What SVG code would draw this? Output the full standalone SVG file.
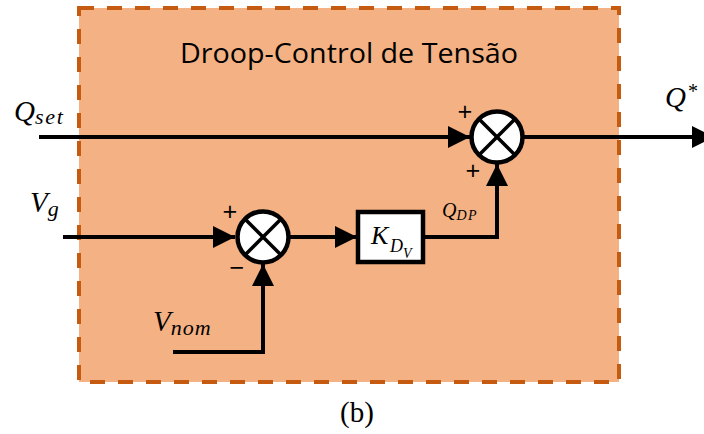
<svg xmlns="http://www.w3.org/2000/svg" width="704" height="434" viewBox="0 0 704 434">
<defs>
<marker id="ah" markerUnits="userSpaceOnUse" markerWidth="22" markerHeight="22" viewBox="0 0 20 20" refX="20" refY="10" orient="auto"><path d="M0,0 L20,10 L0,20 Z" fill="#000"/></marker>
</defs>
<style>
.ln{fill:none;stroke:#000;stroke-width:4;stroke-linejoin:miter}
.m{font-family:"Liberation Serif",serif;font-style:italic;fill:#000}
.sg{font-family:"Open Sans","Liberation Sans",sans-serif;fill:#000;text-anchor:middle}
.sum circle{fill:#fff;stroke:#000;stroke-width:4.5}
.sum line{stroke:#000;stroke-width:3.5}
.blk{fill:#fff;stroke:#000;stroke-width:4.5}
</style>
<rect width="704" height="434" fill="#fff"/>
<g id="frame">
<rect x="79" y="8" width="540" height="374" fill="#F4B183" stroke="#C55A11" stroke-width="4" stroke-dasharray="15 13"/>
<text x="349" y="63" font-family="Open Sans, Liberation Sans, sans-serif" font-size="27" text-anchor="middle" textLength="338" lengthAdjust="spacingAndGlyphs" fill="#000">Droop-Control de Tensão</text>
</g>
<g id="connectors">
<path class="ln" d="M39,137 H470" marker-end="url(#ah)"/>
<path class="ln" d="M523,137 H714" marker-end="url(#ah)"/>
<path class="ln" d="M63,237 H235" marker-end="url(#ah)"/>
<path class="ln" d="M173,352 H263 V264" marker-end="url(#ah)"/>
<path class="ln" d="M290,237 H357" marker-end="url(#ah)"/>
<path class="ln" d="M423,237 H497 V164" marker-end="url(#ah)"/>
</g>
<g id="sum1" class="sum">
<circle cx="263" cy="237" r="25.5"/>
<line x1="245" y1="219" x2="281" y2="255"/>
<line x1="281" y1="219" x2="245" y2="255"/>
<text class="sg" x="230" y="221" font-size="26">+</text>
<text class="sg" x="237" y="277" font-size="26">−</text>
</g>
<g id="sum2" class="sum">
<circle cx="497" cy="137" r="25.5"/>
<line x1="479" y1="119" x2="515" y2="155"/>
<line x1="515" y1="119" x2="479" y2="155"/>
<text class="sg" x="465" y="121" font-size="26">+</text>
<text class="sg" x="473" y="180" font-size="26">+</text>
</g>
<g id="gain">
<rect class="blk" x="358" y="212" width="65" height="50"/>
<text class="m" x="371" y="244" font-size="26">K</text>
<text class="m" x="390" y="252" font-size="18">D</text>
<text class="m" x="403" y="258" font-size="14">V</text>
</g>
<g id="labels">
<text class="m" x="14" y="121" font-size="29">Q<tspan font-size="22" dy="3" textLength="28">set</tspan></text>
<text class="m" x="30" y="212" font-size="29">V<tspan font-size="22" dy="4">g</tspan></text>
<text class="m" x="153" y="331" font-size="29">V<tspan font-size="22" dy="4" textLength="40">nom</tspan></text>
<text class="m" x="442" y="217" font-size="20">Q<tspan font-size="14" dy="3" textLength="20">DP</tspan></text>
<text class="m" x="665" y="107" font-size="29">Q</text>
<text x="688" y="98" font-family="Liberation Serif, serif" font-size="20" fill="#000">*</text>
<text x="357" y="422" font-family="Liberation Serif, serif" font-size="29" text-anchor="middle" fill="#000">(b)</text>
</g>
</svg>
